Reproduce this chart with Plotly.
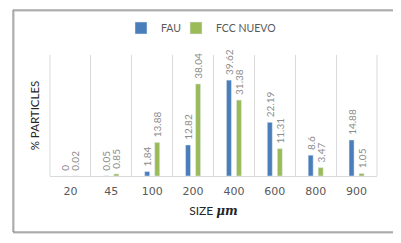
import plotly.graph_objects as go

categories = ["20", "45", "100", "200", "400", "600", "800", "900"]
fau = [0, 0.05, 1.84, 12.82, 39.62, 22.19, 8.6, 14.88]
fcc = [0.02, 0.85, 13.88, 38.04, 31.38, 11.31, 3.47, 1.05]
fau_labels = ["0", "0.05", "1.84", "12.82", "39.62", "22.19", "8.6", "14.88"]
fcc_labels = ["0.02", "0.85", "13.88", "38.04", "31.38", "11.31", "3.47", "1.05"]

# the page body adds an 8px margin; work in screen coordinates and subtract it
OFF = 8
W, H = 401 - OFF, 243 - OFF
L, R, T, B = 50 - OFF, 377 - OFF, 55 - OFF, 176 - OFF

PAD = "\u00a0\u00a0"  # gap between bar top and its rotated label

fig = go.Figure()
common = dict(textposition="outside", textangle=-90, cliponaxis=False,
              constraintext="none",
              textfont=dict(size=10, color="#8c8c8c", family="Lato"))
fig.add_trace(go.Bar(name="FAU", x=categories, y=fau,
                     text=[PAD + t for t in fau_labels],
                     marker_color="#4a7ebb", legend="legend", **common))
fig.add_trace(go.Bar(name="FCC NUEVO", x=categories, y=fcc,
                     text=[PAD + t for t in fcc_labels],
                     marker_color="#9bbb59", legend="legend2", **common))

pw, ph = R - L, B - T
def px(x):  # screen x -> paper
    return (x - OFF - L) / pw
def py(y):  # screen y -> paper
    return (B - (y - OFF)) / ph

fig.add_shape(type="rect", xref="paper", yref="paper",
              x0=px(14), x1=px(395), y0=py(233), y1=py(11),
              line=dict(color="#d0d0d0", width=1.5))
fig.add_shape(type="rect", xref="paper", yref="paper",
              x0=px(13), x1=px(394), y0=py(232), y1=py(10),
              line=dict(color="#7f7f7f", width=1))
for xe in (0, 1):
    fig.add_shape(type="line", xref="paper", yref="paper",
                  x0=xe, x1=xe, y0=0, y1=1,
                  line=dict(color="#d9d9d9", width=1), layer="below")

leg = dict(orientation="h", xanchor="left", yanchor="middle", y=py(28),
           font=dict(size=10.5, color="#595959", family="Lato"),
           itemwidth=30, bgcolor="rgba(0,0,0,0)")

fig.update_layout(
    width=W, height=H,
    margin=dict(l=L, r=W - R, t=T, b=H - B, autoexpand=False),
    paper_bgcolor="white", plot_bgcolor="white",
    barmode="group", bargap=0.51, bargroupgap=0.5,
    showlegend=True,
    legend=dict(leg, x=px(121)),
    legend2=dict(leg, x=px(176)),
    font=dict(family="Lato", color="#595959"),
    xaxis=dict(type="category", tickson="boundaries", showgrid=True,
               gridcolor="#d9d9d9", gridwidth=1, ticks="", automargin=False,
               showline=True, linecolor="#d9d9d9", ticklabelstandoff=5,
               tickfont=dict(size=11, color="#595959", family="DejaVu Sans"),
               title=dict(text='SIZE <span style="font-family:DejaVu Serif"><b><i>μm</i></b></span>',
                          standoff=9,
                          font=dict(size=12, color="#262626", family="Lato"))),
    yaxis=dict(range=[0, 50], showgrid=False, showticklabels=False,
               zeroline=False, ticks="", automargin=False,
               title=dict(text="% PARTICLES", standoff=6,
                          font=dict(size=11.5, color="#262626", family="Lato"))),
)
fig.write_html("out.html")
